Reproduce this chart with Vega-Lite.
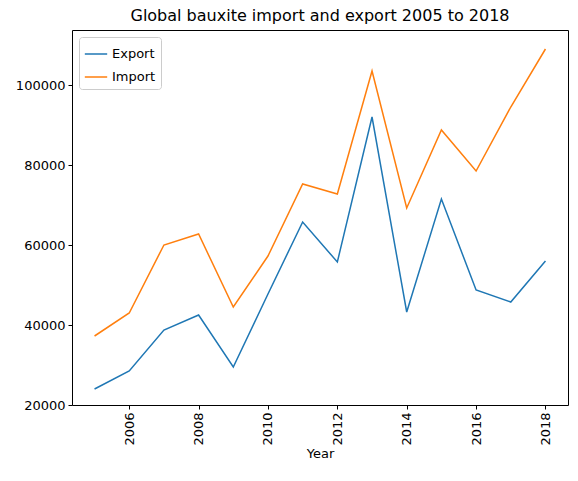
{
  "$schema": "https://vega.github.io/schema/vega-lite/v6.json",
  "width": 496,
  "height": 375,
  "autosize": {"type": "none"},
  "padding": {"left": 72, "top": 30, "right": 10, "bottom": 76},
  "background": "white",
  "config": {
    "font": "DejaVu Sans",
    "view": {"stroke": "black", "strokeWidth": 1},
    "axis": {"grid": false, "domain": false, "tickColor": "black", "labelColor": "black", "labelFontSize": 13, "titleFontSize": 13, "titleFontWeight": "normal", "tickSize": 4, "labelPadding": 3}
  },
  "title": {"text": "Global bauxite import and export 2005 to 2018", "fontSize": 16, "fontWeight": "normal", "offset": 6},
  "data": {"values": [
    {"Year": 2005, "series": "Export", "value": 24000},
    {"Year": 2006, "series": "Export", "value": 28500},
    {"Year": 2007, "series": "Export", "value": 38750},
    {"Year": 2008, "series": "Export", "value": 42500},
    {"Year": 2009, "series": "Export", "value": 29500},
    {"Year": 2010, "series": "Export", "value": 47750},
    {"Year": 2011, "series": "Export", "value": 65750},
    {"Year": 2012, "series": "Export", "value": 55750},
    {"Year": 2013, "series": "Export", "value": 92000},
    {"Year": 2014, "series": "Export", "value": 43250},
    {"Year": 2015, "series": "Export", "value": 71500},
    {"Year": 2016, "series": "Export", "value": 48750},
    {"Year": 2017, "series": "Export", "value": 45750},
    {"Year": 2018, "series": "Export", "value": 56000},
    {"Year": 2005, "series": "Import", "value": 37250},
    {"Year": 2006, "series": "Import", "value": 43000},
    {"Year": 2007, "series": "Import", "value": 60000},
    {"Year": 2008, "series": "Import", "value": 62750},
    {"Year": 2009, "series": "Import", "value": 44500},
    {"Year": 2010, "series": "Import", "value": 57250},
    {"Year": 2011, "series": "Import", "value": 75250},
    {"Year": 2012, "series": "Import", "value": 72750},
    {"Year": 2013, "series": "Import", "value": 103500},
    {"Year": 2014, "series": "Import", "value": 69250},
    {"Year": 2015, "series": "Import", "value": 88750},
    {"Year": 2016, "series": "Import", "value": 78500},
    {"Year": 2017, "series": "Import", "value": 94500},
    {"Year": 2018, "series": "Import", "value": 109000}
  ]},
  "mark": {"type": "line", "strokeWidth": 1.5},
  "encoding": {
    "x": {"field": "Year", "type": "quantitative", "scale": {"domain": [2004.35, 2018.65], "nice": false, "zero": false},
      "axis": {"values": [2006, 2008, 2010, 2012, 2014, 2016, 2018], "format": "d", "labelAngle": -90, "labelAlign": "right", "labelBaseline": "middle", "title": "Year", "titlePadding": 2}},
    "y": {"field": "value", "type": "quantitative", "scale": {"domain": [20000, 113750], "nice": false, "zero": false},
      "axis": {"values": [20000, 40000, 60000, 80000, 100000], "format": "d", "title": null}},
    "color": {"field": "series", "type": "nominal", "scale": {"domain": ["Export", "Import"], "range": ["#1f77b4", "#ff7f0e"]},
      "legend": {"title": null, "orient": "top-left", "offset": 7, "symbolType": "stroke", "symbolStrokeWidth": 1.5, "symbolSize": 500, "labelFontSize": 13, "strokeColor": "#cccccc", "fillColor": "white", "padding": 5, "rowPadding": 4, "cornerRadius": 3}}
  }
}
